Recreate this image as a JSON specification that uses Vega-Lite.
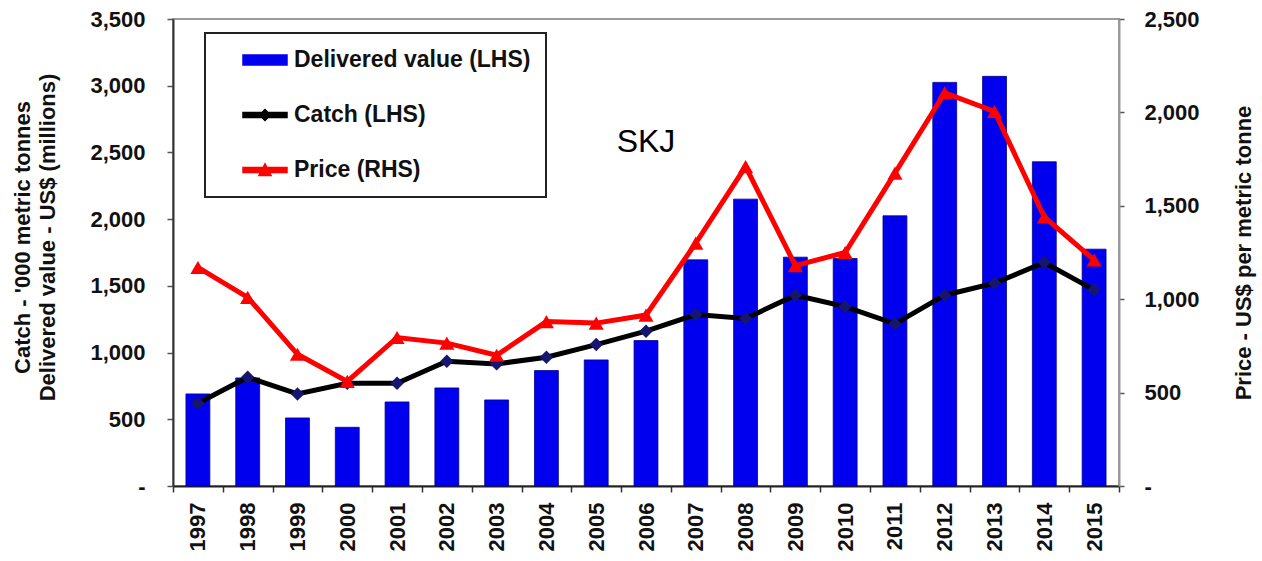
{
  "$schema": "https://vega.github.io/schema/vega-lite/v6.json",
  "width": 946,
  "height": 467,
  "autosize": {"type": "none"},
  "padding": {"left": 173, "top": 19, "right": 143, "bottom": 75},
  "background": "white",
  "config": {
    "view": {"stroke": "#9a9a9a", "strokeWidth": 2},
    "font": "Liberation Sans",
    "legend": {
      "orient": "none",
      "legendX": 32,
      "legendY": 14,
      "strokeColor": "#222",
      "strokeWidth": 2,
      "padding": 15,
      "symbolOffset": 33,
      "rowPadding": 31,
      "symbolSize": 484,
      "labelOffset": 17,
      "labelLimit": 400,
      "labelFont": "Liberation Sans",
      "labelFontSize": 23,
      "labelFontWeight": "bold",
      "labelColor": "#111"
    }
  },
  "data": {
    "values": [
      {"year": 1997, "value": 690, "catch": 620, "price": 1170},
      {"year": 1998, "value": 810, "catch": 815, "price": 1010},
      {"year": 1999, "value": 510, "catch": 690, "price": 705},
      {"year": 2000, "value": 440, "catch": 770, "price": 560},
      {"year": 2001, "value": 630, "catch": 770, "price": 795},
      {"year": 2002, "value": 735, "catch": 935, "price": 765},
      {"year": 2003, "value": 645, "catch": 915, "price": 700},
      {"year": 2004, "value": 865, "catch": 965, "price": 880},
      {"year": 2005, "value": 945, "catch": 1060, "price": 872},
      {"year": 2006, "value": 1090, "catch": 1160, "price": 915},
      {"year": 2007, "value": 1695, "catch": 1285, "price": 1300},
      {"year": 2008, "value": 2150, "catch": 1255, "price": 1710},
      {"year": 2009, "value": 1715, "catch": 1430, "price": 1180},
      {"year": 2010, "value": 1705, "catch": 1345, "price": 1250},
      {"year": 2011, "value": 2025, "catch": 1215, "price": 1675},
      {"year": 2012, "value": 3025, "catch": 1430, "price": 2105},
      {"year": 2013, "value": 3070, "catch": 1520, "price": 2005},
      {"year": 2014, "value": 2430, "catch": 1675, "price": 1440},
      {"year": 2015, "value": 1775, "catch": 1470, "price": 1210}
    ]
  },
  "layer": [
    {
      "layer": [
        {
          "mark": {"type": "bar", "width": {"band": 0.48}, "stroke": "#00008b", "strokeWidth": 0.8},
          "encoding": {
            "x": {
              "field": "year", "type": "ordinal",
              "scale": {"paddingInner": 0, "paddingOuter": 0},
              "axis": {
                "title": null,
                "labelAngle": -90,
                "labelFont": "Liberation Sans",
                "labelFontSize": 22,
                "labelFontWeight": "bold",
                "labelColor": "#111",
                "labelPadding": 10,
                "tickBand": "extent",
                "tickSize": 6,
                "tickColor": "#333",
                "tickWidth": 1.5,
                "domainColor": "#222",
                "domainWidth": 2
              }
            },
            "y": {
              "field": "value", "type": "quantitative",
              "scale": {"domain": [0, 3500], "nice": false, "zero": true},
              "axis": {
                "title": ["Catch - '000 metric tonnes", "Delivered value - US$ (millions)"],
                "values": [0, 500, 1000, 1500, 2000, 2500, 3000, 3500],
                "labelExpr": "datum.value == 0 ? '-' : format(datum.value, ',')",
                "labelFont": "Liberation Sans",
                "labelFontSize": 22,
                "labelFontWeight": "bold",
                "labelColor": "#111",
                "labelPadding": 22,
                "tickSize": 6,
                "tickColor": "#555",
                "tickWidth": 1.5,
                "domainColor": "#333",
                "domainWidth": 2,
                "grid": false,
                "titleFont": "Liberation Sans",
                "titleFontSize": 22,
                "titleFontWeight": "bold",
                "titleColor": "#111",
                "titleLineHeight": 25,
                "titlePadding": 30,
                "titleY": 218
              }
            },
            "color": {
              "datum": "Delivered value (LHS)",
              "type": "nominal",
              "scale": {
                "domain": ["Delivered value (LHS)", "Catch (LHS)", "Price (RHS)"],
                "range": ["#0000ee", "#000000", "#ff0000"]
              },
              "legend": {
                "title": null,
                "symbolType": {"expr": "datum.value === 'Delivered value (LHS)' ? 'M-2,-0.45H2V0.45H-2Z' : datum.value === 'Catch (LHS)' ? 'M-2,-0.23H2V0.23H-2ZM0,-0.5L0.5,0L0,0.5L-0.5,0Z' : 'M-2,-0.23H2V0.23H-2ZM0,-0.55L0.55,0.5L-0.55,0.5Z'"}
              }
            }
          }
        },
        {
          "mark": {"type": "line", "strokeWidth": 5},
          "encoding": {
            "x": {"field": "year", "type": "ordinal"},
            "y": {
              "field": "catch", "type": "quantitative",
              "scale": {"domain": [0, 3500], "nice": false, "zero": true},
              "axis": {
                "title": ["Catch - '000 metric tonnes", "Delivered value - US$ (millions)"],
                "values": [0, 500, 1000, 1500, 2000, 2500, 3000, 3500],
                "labelExpr": "datum.value == 0 ? '-' : format(datum.value, ',')",
                "labelFont": "Liberation Sans",
                "labelFontSize": 22,
                "labelFontWeight": "bold",
                "labelColor": "#111",
                "labelPadding": 22,
                "tickSize": 6,
                "tickColor": "#555",
                "tickWidth": 1.5,
                "domainColor": "#333",
                "domainWidth": 2,
                "grid": false,
                "titleFont": "Liberation Sans",
                "titleFontSize": 22,
                "titleFontWeight": "bold",
                "titleColor": "#111",
                "titleLineHeight": 25,
                "titlePadding": 30,
                "titleY": 218
              }
            },
            "color": {"datum": "Catch (LHS)", "type": "nominal"}
          }
        },
        {
          "mark": {"type": "point", "shape": "diamond", "filled": true, "size": 180, "color": "#16166e", "opacity": 1},
          "encoding": {
            "x": {"field": "year", "type": "ordinal"},
            "y": {
              "field": "catch", "type": "quantitative",
              "scale": {"domain": [0, 3500], "nice": false, "zero": true},
              "axis": {
                "title": ["Catch - '000 metric tonnes", "Delivered value - US$ (millions)"],
                "values": [0, 500, 1000, 1500, 2000, 2500, 3000, 3500],
                "labelExpr": "datum.value == 0 ? '-' : format(datum.value, ',')",
                "labelFont": "Liberation Sans",
                "labelFontSize": 22,
                "labelFontWeight": "bold",
                "labelColor": "#111",
                "labelPadding": 22,
                "tickSize": 6,
                "tickColor": "#555",
                "tickWidth": 1.5,
                "domainColor": "#333",
                "domainWidth": 2,
                "grid": false,
                "titleFont": "Liberation Sans",
                "titleFontSize": 22,
                "titleFontWeight": "bold",
                "titleColor": "#111",
                "titleLineHeight": 25,
                "titlePadding": 30,
                "titleY": 218
              }
            }
          }
        },
        {
          "data": {"values": [{"year": 2006, "v": 2580, "label": "SKJ"}]},
          "mark": {"type": "text", "font": "Liberation Sans", "fontSize": 32, "color": "#000", "baseline": "middle", "align": "center"},
          "encoding": {
            "x": {"field": "year", "type": "ordinal"},
            "y": {
              "field": "v", "type": "quantitative",
              "scale": {"domain": [0, 3500], "nice": false, "zero": true},
              "axis": {
                "title": ["Catch - '000 metric tonnes", "Delivered value - US$ (millions)"],
                "values": [0, 500, 1000, 1500, 2000, 2500, 3000, 3500],
                "labelExpr": "datum.value == 0 ? '-' : format(datum.value, ',')",
                "labelFont": "Liberation Sans",
                "labelFontSize": 22,
                "labelFontWeight": "bold",
                "labelColor": "#111",
                "labelPadding": 22,
                "tickSize": 6,
                "tickColor": "#555",
                "tickWidth": 1.5,
                "domainColor": "#333",
                "domainWidth": 2,
                "grid": false,
                "titleFont": "Liberation Sans",
                "titleFontSize": 22,
                "titleFontWeight": "bold",
                "titleColor": "#111",
                "titleLineHeight": 25,
                "titlePadding": 30,
                "titleY": 218
              }
            },
            "text": {"field": "label"}
          }
        }
      ]
    },
    {
      "layer": [
        {
          "mark": {"type": "line", "strokeWidth": 5},
          "encoding": {
            "x": {"field": "year", "type": "ordinal"},
            "y": {
              "field": "price", "type": "quantitative",
              "scale": {"domain": [0, 2500], "nice": false, "zero": true},
              "axis": {
                "orient": "right",
                "title": "Price - US$ per metric tonne",
                "values": [0, 500, 1000, 1500, 2000, 2500],
                "labelExpr": "datum.value == 0 ? '-' : format(datum.value, ',')",
                "labelFont": "Liberation Sans",
                "labelFontSize": 22,
                "labelFontWeight": "bold",
                "labelColor": "#111",
                "labelPadding": 20,
                "tickSize": 5,
                "tickColor": "#555",
                "tickWidth": 1.5,
                "domainColor": "#9a9a9a",
                "domainWidth": 2,
                "grid": false,
                "titleFont": "Liberation Sans",
                "titleFontSize": 22,
                "titleFontWeight": "bold",
                "titleColor": "#111",
                "titleAngle": 270,
                "titleBaseline": "top",
                "titlePadding": 34
              }
            },
            "color": {"datum": "Price (RHS)", "type": "nominal"}
          }
        },
        {
          "mark": {"type": "point", "shape": "triangle-up", "filled": true, "size": 230, "color": "#ff0000", "opacity": 1},
          "encoding": {
            "x": {"field": "year", "type": "ordinal"},
            "y": {
              "field": "price", "type": "quantitative",
              "scale": {"domain": [0, 2500], "nice": false, "zero": true},
              "axis": {
                "orient": "right",
                "title": "Price - US$ per metric tonne",
                "values": [0, 500, 1000, 1500, 2000, 2500],
                "labelExpr": "datum.value == 0 ? '-' : format(datum.value, ',')",
                "labelFont": "Liberation Sans",
                "labelFontSize": 22,
                "labelFontWeight": "bold",
                "labelColor": "#111",
                "labelPadding": 20,
                "tickSize": 5,
                "tickColor": "#555",
                "tickWidth": 1.5,
                "domainColor": "#9a9a9a",
                "domainWidth": 2,
                "grid": false,
                "titleFont": "Liberation Sans",
                "titleFontSize": 22,
                "titleFontWeight": "bold",
                "titleColor": "#111",
                "titleAngle": 270,
                "titleBaseline": "top",
                "titlePadding": 34
              }
            }
          }
        }
      ]
    }
  ],
  "resolve": {"scale": {"y": "independent"}}
}
